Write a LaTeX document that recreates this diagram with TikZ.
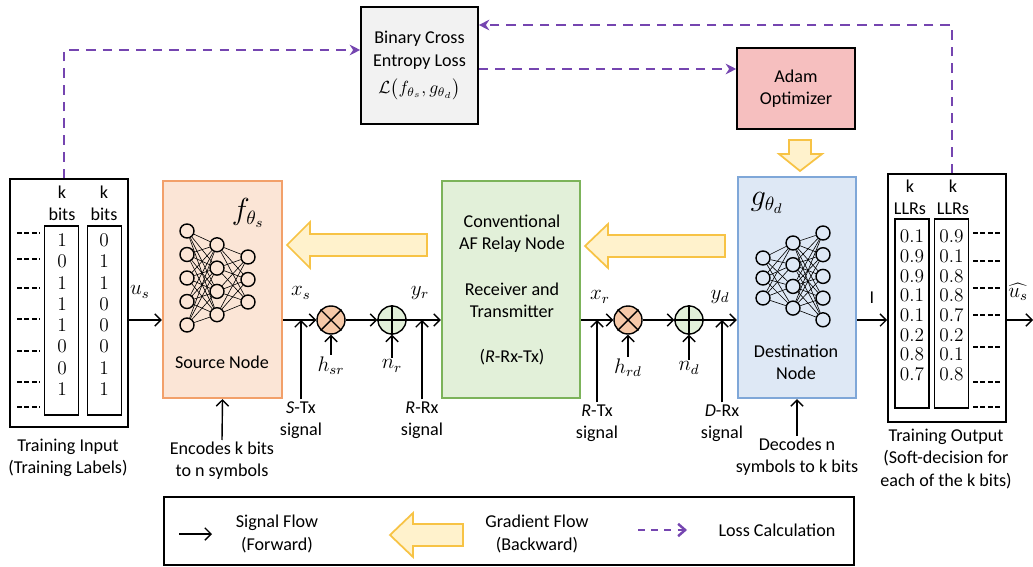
\documentclass[tikz,border=0pt]{standalone}
\usepackage{fontspec}
\setsansfont{Carlito}
\usetikzlibrary{arrows.meta}
\definecolor{srcfill}{HTML}{FBE5D6}
\definecolor{srcline}{HTML}{F2A06A}
\definecolor{relfill}{HTML}{E2F0D9}
\definecolor{relline}{HTML}{7CB35A}
\definecolor{dstfill}{HTML}{DEE8F5}
\definecolor{dstline}{HTML}{7FA7D8}
\definecolor{lossfill}{HTML}{F2F2F2}
\definecolor{adamfill}{HTML}{F6BFBF}
\definecolor{mulfill}{HTML}{F6C9A8}
\definecolor{addfill}{HTML}{E2F0D9}
\definecolor{gradfill}{HTML}{FFF2CC}
\definecolor{gradline}{HTML}{F7C345}
\definecolor{losscol}{HTML}{7545B0}
\begin{document}
\begin{tikzpicture}[x=0.02cm, y=-0.02cm, font=\sffamily\fontsize{10.3}{12.7}\selectfont,
	>={Straight Barb[length=3.5pt,width=7pt]},
	blockbox/.style={draw, line width=0.9pt, inner sep=0pt, align=center},
	sigline/.style={->, line width=0.8pt},
	lossline/.style={-{Stealth[length=6pt,width=6pt]}, draw=losscol, line width=1.4pt, dash pattern=on 5.5pt off 4pt},
	gradarrow/.style={draw=gradline, fill=gradfill, line width=1pt, line join=miter},
	neuron/.style={circle, draw, line width=0.8pt, minimum size=0.28cm, inner sep=0pt},
	nnedge/.style={line width=0.35pt},
	opcircle/.style={circle, draw, line width=0.8pt, minimum size=0.56cm, inner sep=0pt},
	bitcol/.style={draw, line width=0.9pt, minimum width=0.68cm, minimum height=3.78cm},
	bitnum/.style={align=center, inner sep=0pt, font=\rmfamily\fontsize{11}{12.1}\selectfont},
	txt/.style={align=center, inner sep=1pt},
	mathlbl/.style={inner sep=1pt, font=\fontsize{12}{14}\selectfont},
	dashmark/.style={line width=0.9pt, dash pattern=on 2.8pt off 1.4pt}]
	\useasboundingbox (0,0) rectangle (1033,567);

	\node (inbox) at (69,303) [blockbox, minimum width=2.36cm, minimum height=4.96cm] {};
	\node (incol1) at (61.5,320.5) [bitcol] {};
	\node (incol2) at (104.5,320.5) [bitcol] {};
	\node (inhead1) at (62,203) [txt] {k\\bits};
	\node (inhead2) at (104,203) [txt] {k\\bits};
	\node (inbits1) at (62,314.5) [bitnum] {1\\0\\1\\1\\1\\0\\0\\1};
	\node (inbits2) at (104,314.5) [bitnum] {0\\1\\1\\0\\0\\0\\1\\1};
	\foreach \y in {233,259,288,319,351,382,407}
		\draw[dashmark] (17,\y) -- (40,\y);
	\node (incap) at (68,458) [txt] {Training Input\\(Training Labels)};

	\node (source) at (222.5,289.5) [blockbox, draw=srcline, line width=1.2pt, fill=srcfill, minimum width=2.38cm, minimum height=4.34cm] {};
	\node (fs) at (248,213) {\fontsize{16}{18}\selectfont$f_{\theta_s}$};
	\foreach \i in {1,...,5}
		\node (sa\i) at (187,{207.5+23.5*\i}) [neuron] {};
	\foreach \i in {1,...,4}
		\node (sb\i) at (217,{221.5+23.3*\i}) [neuron] {};
	\foreach \i in {1,...,3}
		\node (sc\i) at (248,{234.5+22.5*\i}) [neuron] {};
	\foreach \i in {1,...,5}
		\foreach \j in {1,...,4}
			\draw[nnedge] (sa\i) -- (sb\j);
	\foreach \i in {1,...,4}
		\foreach \j in {1,...,3}
			\draw[nnedge] (sb\i) -- (sc\j);
	\node (srctxt) at (222,362) [txt] {Source Node};
	\node (enc) at (222,461) [txt] {Encodes k bits\\to n symbols};

	\node (relay) at (511,289.5) [blockbox, draw=relline, line width=1.2pt, fill=relfill, minimum width=2.76cm, minimum height=4.34cm] {};
	\node (reltxt1) at (512,234) [txt] {Conventional\\AF Relay Node};
	\node (reltxt2) at (512,300) [txt] {Receiver and\\Transmitter};
	\node (reltxt3) at (512,357) [txt] {(\textit{R}-Rx-Tx)};

	\node (dest) at (797,287.5) [blockbox, draw=dstline, line width=1.2pt, fill=dstfill, minimum width=2.36cm, minimum height=4.42cm] {};
	\node (gd) at (767,203) {\fontsize{16}{18}\selectfont$g_{\theta_d}$};
	\foreach \i in {1,...,3}
		\node (da\i) at (763,{238+20*\i}) [neuron] {};
	\foreach \i in {1,...,4}
		\node (db\i) at (793,{221.3+21.7*\i}) [neuron] {};
	\foreach \i in {1,...,5}
		\node (dc\i) at (823,{211.3+21.7*\i}) [neuron] {};
	\foreach \i in {1,...,3}
		\foreach \j in {1,...,4}
			\draw[nnedge] (da\i) -- (db\j);
	\foreach \i in {1,...,4}
		\foreach \j in {1,...,5}
			\draw[nnedge] (db\i) -- (dc\j);
	\node (dsttxt) at (796,362.5) [txt] {Destination\\Node};
	\node (dec) at (797,457) [txt] {Decodes n\\symbols to k bits};

	\node (outbox) at (947,298) [blockbox, minimum width=2.36cm, minimum height=4.96cm] {};
	\node (outcol1) at (912,313.5) [bitcol] {};
	\node (outcol2) at (951.5,313.5) [bitcol] {};
	\node (outhead1) at (910,197.5) [txt] {k\\LLRs};
	\node (outhead2) at (953,197.5) [txt] {k\\LLRs};
	\node (outllr1) at (912,305.5) [bitnum, font=\rmfamily\fontsize{11}{11.2}\selectfont] {0.1\\0.9\\0.9\\0.1\\0.1\\0.2\\0.8\\0.7};
	\node (outllr2) at (951.5,305.5) [bitnum, font=\rmfamily\fontsize{11}{11.2}\selectfont] {0.9\\0.1\\0.8\\0.8\\0.7\\0.2\\0.1\\0.8};
	\foreach \y in {233,261,288,315,347,382,407}
		\draw[dashmark] (973,\y) -- (1001,\y);
	\node (outcap) at (946,459) [txt] {Training Output\\(Soft-decision for\\each of the k bits)};

	\node (m1) at (331,320) [opcircle, fill=mulfill] {};
	\node (a1) at (392,320) [opcircle, fill=addfill] {};
	\node (m2) at (628,320) [opcircle, fill=mulfill] {};
	\node (a2) at (689,320) [opcircle, fill=addfill] {};
	\draw[line width=0.8pt] (m1.north west) -- (m1.south east) (m1.north east) -- (m1.south west);
	\draw[line width=0.8pt] (m2.north west) -- (m2.south east) (m2.north east) -- (m2.south west);
	\draw[line width=0.8pt] (a1.north) -- (a1.south) (a1.west) -- (a1.east);
	\draw[line width=0.8pt] (a2.north) -- (a2.south) (a2.west) -- (a2.east);
	\coordinate (uend) at (1033,320);

	\draw[sigline] (inbox.east |- m1) -- (source.west |- m1);
	\draw[sigline] (source.east |- m1) -- (m1);
	\draw[sigline] (m1) -- (a1);
	\draw[sigline] (a1) -- (relay.west |- a1);
	\draw[sigline] (relay.east |- m2) -- (m2);
	\draw[sigline] (m2) -- (a2);
	\draw[sigline] (a2) -- (dest.west |- a2);
	\draw[sigline] (dest.east |- a2) -- (outbox.west |- a2);
	\draw[sigline] (outbox.east |- a2) -- (uend);

	\node (us) at (140,292) [mathlbl] {$u_s$};
	\node (xs) at (301,293) [mathlbl] {$x_s$};
	\node (yr) at (420,293) [mathlbl] {$y_r$};
	\node (xr) at (600,297) [mathlbl] {$x_r$};
	\node (yd) at (720,297) [mathlbl] {$y_d$};
	\node (ilbl) at (872,298) {I};
	\node (ushat) at (1018,292) [mathlbl, inner sep=0pt] {$\widehat{u_s}$};

	\node (hsr) at (331,366) [mathlbl] {$h_{sr}$};
	\node (nr) at (392,366) [mathlbl] {$n_r$};
	\node (hrd) at (628,368) [mathlbl] {$h_{rd}$};
	\node (nd) at (689,368) [mathlbl] {$n_d$};
	\draw[sigline] (hsr.north) -- (m1.south);
	\draw[sigline] (nr.north) -- (a1.south);
	\draw[sigline] (hrd.north) -- (m2.south);
	\draw[sigline] (nd.north) -- (a2.south);

	\node (stx) at (301,420) [txt] {\textit{S}-Tx\\signal};
	\node (rrx) at (422,420) [txt] {\textit{R}-Rx\\signal};
	\node (rtx) at (597,423) [txt] {\textit{R}-Tx\\signal};
	\node (drx) at (722,423) [txt] {\textit{D}-Rx\\signal};
	\draw[sigline] (stx.north) -- (stx.north |- m1);
	\draw[sigline] (rrx.north) -- (rrx.north |- a1);
	\draw[sigline] (rtx.north) -- (rtx.north |- m2);
	\draw[sigline] (drx.north) -- (drx.north |- a2);
	\draw[sigline] (enc.north) -- (source.south);
	\draw[sigline] (dec.north) -- (dest.south);

	\draw[gradarrow] (427,234) -- (310,234) -- (310,222) -- (287,245) -- (310,268) -- (310,256) -- (427,256) -- cycle;
	\draw[gradarrow] (725,235) -- (608,235) -- (608,224) -- (585,246) -- (608,268) -- (608,257) -- (725,257) -- cycle;

	\node (loss) at (419.5,65.5) [blockbox, fill=lossfill, minimum width=2.34cm, minimum height=2.34cm] {Binary Cross\\Entropy Loss\\[3pt]$\mathcal{L}\big(f_{\theta_s}, g_{\theta_d}\big)$};
	\node (adam) at (796,88.5) [blockbox, fill=adamfill, minimum width=2.36cm, minimum height=1.62cm] {Adam\\Optimizer};
	\draw[gradarrow] (789,140) -- (811,140) -- (811,154) -- (822,154) -- (800,171) -- (779,154) -- (789,154) -- cycle;
	\coordinate (lossout) at ([yshift=-0.07cm]loss.east);
	\draw[lossline] ([xshift=-0.1cm]inbox.north) |- ([yshift=0.31cm]loss.west);
	\draw[lossline] ([xshift=0.1cm]outbox.north) |- ([yshift=0.81cm]loss.east);
	\draw[lossline] (lossout) -- (lossout -| adam.west);

	\node (legend) at (509,531) [blockbox, minimum width=13.8cm, minimum height=1.36cm] {};
	\coordinate (lsig1) at (179,534);
	\coordinate (lsig2) at (212,534);
	\draw[sigline] (lsig1) -- (lsig2);
	\node (lsigtxt) at (277,534) [txt] {Signal Flow\\(Forward)};
	\draw[gradarrow] (463,524) -- (413,524) -- (413,513) -- (390,535) -- (413,557) -- (413,546) -- (463,546) -- cycle;
	\node (lgradtxt) at (537,534) [txt] {Gradient Flow\\(Backward)};
	\coordinate (lloss1) at (638,530);
	\coordinate (lloss2) at (687,530);
	\draw[lossline, -{Straight Barb[length=4pt,width=7pt]}, dash pattern=on 4pt off 3.5pt] (lloss1) -- (lloss2);
	\node (llosstxt) at (777,530) [txt] {Loss Calculation};
\end{tikzpicture}
\end{document}
